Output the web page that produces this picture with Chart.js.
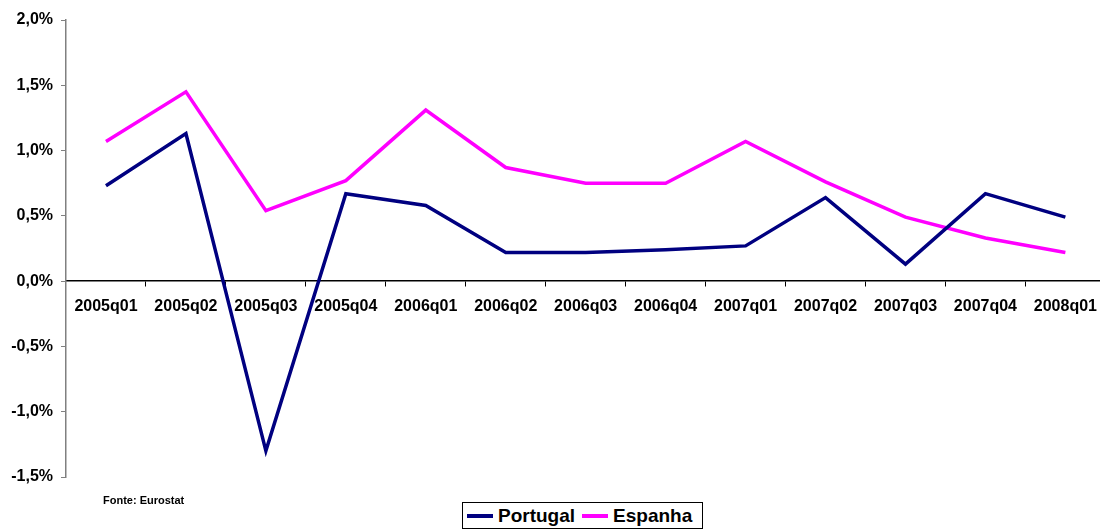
<!DOCTYPE html>
<html lang="pt">
<head>
    <meta charset="UTF-8">
    <title>Portugal vs Espanha</title>
    <script src="https://cdn.jsdelivr.net/npm/chart.js"></script>
    <style>
        html, body {
            margin: 0;
            padding: 0;
            background: #fff;
            overflow: hidden;
            font-family: Arial, 'Liberation Sans', sans-serif;
        }
        #wrap {
            position: relative;
            width: 1100px;
            height: 530px;
            overflow: hidden;
        }
        canvas {
            position: absolute;
            left: 0;
            top: 0;
        }
        #source {
            position: absolute;
            left: 103px;
            top: 494px;
            font-size: 11px;
            font-weight: bold;
            color: #000;
        }
        #legend {
            position: absolute;
            left: 462px;
            top: 502px;
            width: 241px;
            height: 27px;
            border: 1px solid #000;
            box-sizing: border-box;
            display: flex;
            align-items: center;
            padding-left: 4px;
            font-size: 19px;
            font-weight: bold;
            color: #000;
            background: #fff;
        }
        .item {
            display: flex;
            align-items: center;
            margin-right: 7px;
        }
        .swatch {
            display: inline-block;
            width: 26px;
            height: 4px;
            margin-right: 5px;
        }
    </style>
</head>
<body>
<div id="wrap">
    <canvas id="growthChart" width="1108" height="530"></canvas>
    <div id="source">Fonte: Eurostat</div>
    <div id="legend"></div>
</div>

<script>
    const quarters = ['2005q01', '2005q02', '2005q03', '2005q04', '2006q01', '2006q02', '2006q03',
                      '2006q04', '2007q01', '2007q02', '2007q03', '2007q04', '2008q01'];
    const portugal = [0.73, 1.13, -1.30, 0.67, 0.58, 0.22, 0.22, 0.24, 0.27, 0.64, 0.13, 0.67, 0.49];
    const espanha = [1.07, 1.45, 0.54, 0.77, 1.31, 0.87, 0.75, 0.75, 1.07, 0.76, 0.49, 0.33, 0.22];
    const seriesNames = ['Portugal', 'Espanha'];
    const seriesColors = ['#000080', '#ff00ff'];

    const axisFont = { family: "Arial, 'Liberation Sans', sans-serif", size: 16, weight: 'bold' };

    const ctx = document.getElementById('growthChart').getContext('2d');

    const chart = new Chart(ctx, {
        type: 'line',
        data: {
            labels: quarters,
            datasets: [portugal, espanha].map((values, i) => ({
                label: seriesNames[i],
                data: values,
                borderColor: seriesColors[i],
                backgroundColor: seriesColors[i],
                borderWidth: 3.5,
                pointRadius: 0,
                tension: 0,
                fill: false
            }))
        },
        options: {
            responsive: false,
            animation: false,
            layout: {
                padding: { left: 0, right: 1, top: 20, bottom: 53 }
            },
            plugins: {
                legend: { display: false },
                tooltip: { enabled: false }
            },
            scales: {
                x: {
                    position: { y: 0 },
                    offset: true,
                    grid: {
                        offset: true,
                        drawOnChartArea: false,
                        drawTicks: true,
                        tickLength: 5,
                        color: '#000'
                    },
                    border: { color: '#000', width: 1.5 },
                    ticks: {
                        color: '#000',
                        font: axisFont,
                        padding: 11,
                        maxRotation: 0,
                        autoSkip: false
                    }
                },
                y: {
                    min: -1.5,
                    max: 2.0,
                    grid: {
                        drawOnChartArea: false,
                        drawTicks: true,
                        tickLength: 5,
                        color: '#808080'
                    },
                    border: { color: '#808080', width: 1.5 },
                    ticks: {
                        stepSize: 0.5,
                        color: '#000',
                        font: axisFont,
                        padding: 8,
                        callback: v => v.toFixed(1).replace('.', ',') + '%'
                    },
                    afterFit: scale => { scale.width = 66; }
                }
            }
        }
    });

    // legend with a box round it, built from the datasets
    const legend = document.getElementById('legend');
    chart.data.datasets.forEach(ds => {
        const item = document.createElement('span');
        item.className = 'item';
        const sw = document.createElement('span');
        sw.className = 'swatch';
        sw.style.background = ds.borderColor;
        item.appendChild(sw);
        item.appendChild(document.createTextNode(ds.label));
        legend.appendChild(item);
    });
</script>
</body>
</html>
